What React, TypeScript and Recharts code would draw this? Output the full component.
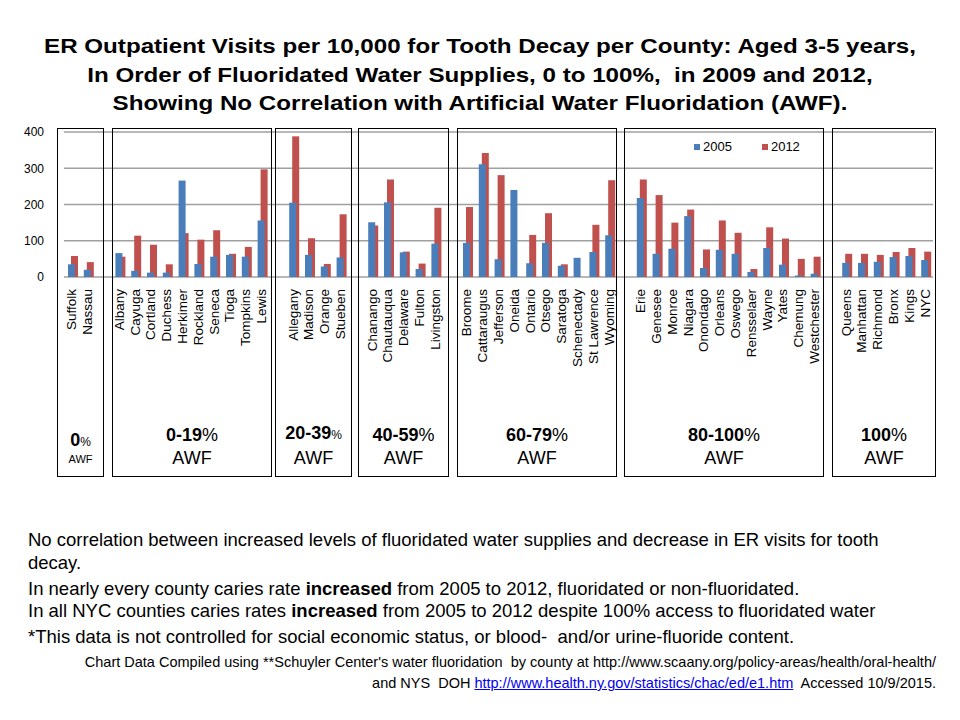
import { BarChart, Bar, XAxis, YAxis, CartesianGrid } from 'recharts';

// counties, grouped by share of fluoridated water supply
const awf0 = ['Suffolk', 'Nassau'];
const awf0to19 = ['Albany', 'Cayuga', 'Cortland', 'Duchess', 'Herkimer', 'Rockland', 'Seneca', 'Tioga', 'Tompkins', 'Lewis'];
const awf20to39 = ['Allegany', 'Madison', 'Orange', 'Stueben'];
const awf40to59 = ['Chanango', 'Chautauqua', 'Delaware', 'Fulton', 'Livingston'];
const awf60to79 = ['Broome', 'Cattaraugus', 'Jefferson', 'Oneida', 'Ontario', 'Otsego', 'Saratoga', 'Schenectady', 'St Lawrence', 'Wyoming'];
const awf80to100 = ['Erie', 'Genesee', 'Monroe', 'Niagara', 'Onondago', 'Orleans', 'Oswego', 'Rensselaer', 'Wayne', 'Yates', 'Chemung', 'Westchester'];
const awf100 = ['Queens', 'Manhattan', 'Richmond', 'Bronx', 'Kings', 'NYC'];

const countyGroups = [awf0, awf0to19, awf20to39, awf40to59, awf60to79, awf80to100, awf100];
const awfLabels = ['0', '0-19', '20-39', '40-59', '60-79', '80-100', '100'];

const visits2005 = [
  35, 20,
  66, 17, 12, 12, 266, 36, 56, 61, 56, 156,
  205, 61, 29, 54,
  151, 206, 68, 22, 92,
  94, 311, 49, 240, 38, 94, 31, 53, 69, 115,
  218, 64, 78, 168, 25, 75, 64, 14, 80, 34, 4, 9,
  39, 39, 42, 55, 58, 47,
];
const visits2012 = [
  58, 41,
  56, 114, 89, 35, 121, 103, 129, 64, 83, 297,
  388, 107, 36, 173,
  142, 269, 70, 37, 191,
  193, 342, 281, 0, 116, 176, 35, 0, 144, 267,
  269, 226, 150, 186, 76, 156, 122, 22, 137, 106, 50, 56,
  64, 64, 61, 69, 80, 70,
];

const yTicks = [0, 100, 200, 300, 400];

const series = [
  { key: 'v2005', name: '2005', color: '#4a7ebb' },
  { key: 'v2012', name: '2012', color: '#c0504d' },
];

// one empty slot between groups
const rows: { name: string; v2005: number | null; v2012: number | null }[] = [];
let n = 0;
countyGroups.forEach((group, g) => {
  if (g > 0) rows.push({ name: '', v2005: null, v2012: null });
  group.forEach((name) => {
    rows.push({ name, v2005: visits2005[n], v2012: visits2012[n] });
    n++;
  });
});

// outline boxes around each group (page pixels)
const panels = [
  [57, 104], [112, 272], [275, 352], [358, 449], [457, 617], [624, 824], [832, 936],
];

const font = "'Liberation Sans', Arial, sans-serif";

const CountyTick = ({ x, y, payload }: any) => (
  <text
    x={x}
    y={y + 4}
    transform={`rotate(-90, ${x}, ${y + 4})`}
    textAnchor="end"
    dominantBaseline="central"
    fontSize={13.5}
    fill="#000"
    fontFamily={font}
  >
    {payload.value}
  </text>
);

// 2012 bars sit a little behind and to the right
const BackBar = (props: any) => {
  const { x, y, width, height, fill } = props;
  if (!height) return null;
  return <rect x={x + 3} y={y} width={width} height={height} fill={fill} />;
};

export default function App() {
  return (
    <div style={{ position: 'absolute', left: 0, top: 0, width: 960, height: 720, background: '#fff', fontFamily: font, color: '#000' }}>
      <div
        style={{
          position: 'absolute', top: 32, left: 0, width: 960, textAlign: 'center', fontWeight: 'bold',
          fontSize: 21, lineHeight: '28.5px', transform: 'scaleX(1.15)', transformOrigin: '480px 0',
        }}
      >
        ER Outpatient Visits per 10,000 for Tooth Decay per County: Aged 3-5 years,<br />
        In Order of Fluoridated Water Supplies, 0 to 100%,&nbsp; in 2009 and 2012,<br />
        Showing No Correlation with Artificial Water Fluoridation (AWF).
      </div>

      <div style={{ position: 'absolute', left: 0, top: 0 }}>
        <BarChart
          width={960}
          height={420}
          data={rows}
          margin={{ top: 132, right: 27, left: 24, bottom: 20 }}
          barSize={7}
          barGap={-7}
        >
          <CartesianGrid vertical={false} stroke="#a0a0a0" strokeWidth={1.5} />
          <XAxis dataKey="name" interval={0} tickLine={false} axisLine={false} height={123} tick={<CountyTick />} />
          <YAxis
            width={40}
            domain={[0, 400]}
            ticks={yTicks}
            tickLine={false}
            axisLine={false}
            tickMargin={14}
            tick={{ fontSize: 12, fill: '#000', fontFamily: font }}
          />
          <Bar dataKey="v2012" name="2012" fill={series[1].color} shape={<BackBar />} isAnimationActive={false} />
          <Bar dataKey="v2005" name="2005" fill={series[0].color} isAnimationActive={false} />
        </BarChart>
      </div>

      <div style={{ position: 'absolute', left: 694, top: 139, display: 'flex', gap: 30, fontSize: 13, lineHeight: '16px' }}>
        {series.map((s) => (
          <div key={s.key} style={{ display: 'flex', alignItems: 'center', gap: 3 }}>
            <span style={{ width: 6, height: 6, background: s.color, display: 'inline-block' }} />
            {s.name}
          </div>
        ))}
      </div>

      {panels.map(([l, r], i) => (
        <div
          key={i}
          style={{ position: 'absolute', left: l, top: 128, width: r - l, height: 477 - 128, border: '1px solid #000', boxSizing: 'border-box' }}
        >
          {i === 0 ? (
            <div style={{ position: 'absolute', bottom: 10, width: '100%', textAlign: 'center' }}>
              <div style={{ lineHeight: '20px' }}>
                <b style={{ fontSize: 18 }}>0</b>
                <span style={{ fontSize: 12 }}>%</span>
              </div>
              <div style={{ fontSize: 11, lineHeight: '14px' }}>AWF</div>
            </div>
          ) : (
            <div style={{ position: 'absolute', bottom: 6, width: '100%', textAlign: 'center', fontSize: 18, lineHeight: '23px' }}>
              <div>
                <b>{awfLabels[i]}</b>
                <span style={{ fontSize: i === 2 ? 12 : 18 }}>%</span>
              </div>
              <div>AWF</div>
            </div>
          )}
        </div>
      ))}

      <div style={{ position: 'absolute', left: 28, top: 528, width: 880, fontSize: 18.5, lineHeight: '23px' }}>
        No correlation between increased levels of fluoridated water supplies and decrease in ER visits for tooth decay.
      </div>
      <div style={{ position: 'absolute', left: 28, top: 578, fontSize: 18.5, lineHeight: '22px', whiteSpace: 'nowrap' }}>
        In nearly every county caries rate <b>increased</b> from 2005 to 2012, fluoridated or non-fluoridated.<br />
        In all NYC counties caries rates <b>increased</b> from 2005 to 2012 despite 100% access to fluoridated water
      </div>
      <div style={{ position: 'absolute', left: 28, top: 626, fontSize: 18.5, lineHeight: '22px', whiteSpace: 'nowrap' }}>
        *This data is not controlled for social economic status, or blood-&nbsp; and/or urine-fluoride content.
      </div>
      <div style={{ position: 'absolute', right: 24, top: 652, fontSize: 14.5, lineHeight: '21px', textAlign: 'right', whiteSpace: 'nowrap' }}>
        Chart Data Compiled using **Schuyler Center's water fluoridation&nbsp; by county at http://www.scaany.org/policy-areas/health/oral-health/<br />
        and NYS&nbsp; DOH <span style={{ color: '#0000ee', textDecoration: 'underline' }}>http://www.health.ny.gov/statistics/chac/ed/e1.htm</span>&nbsp; Accessed 10/9/2015.
      </div>
    </div>
  );
}
